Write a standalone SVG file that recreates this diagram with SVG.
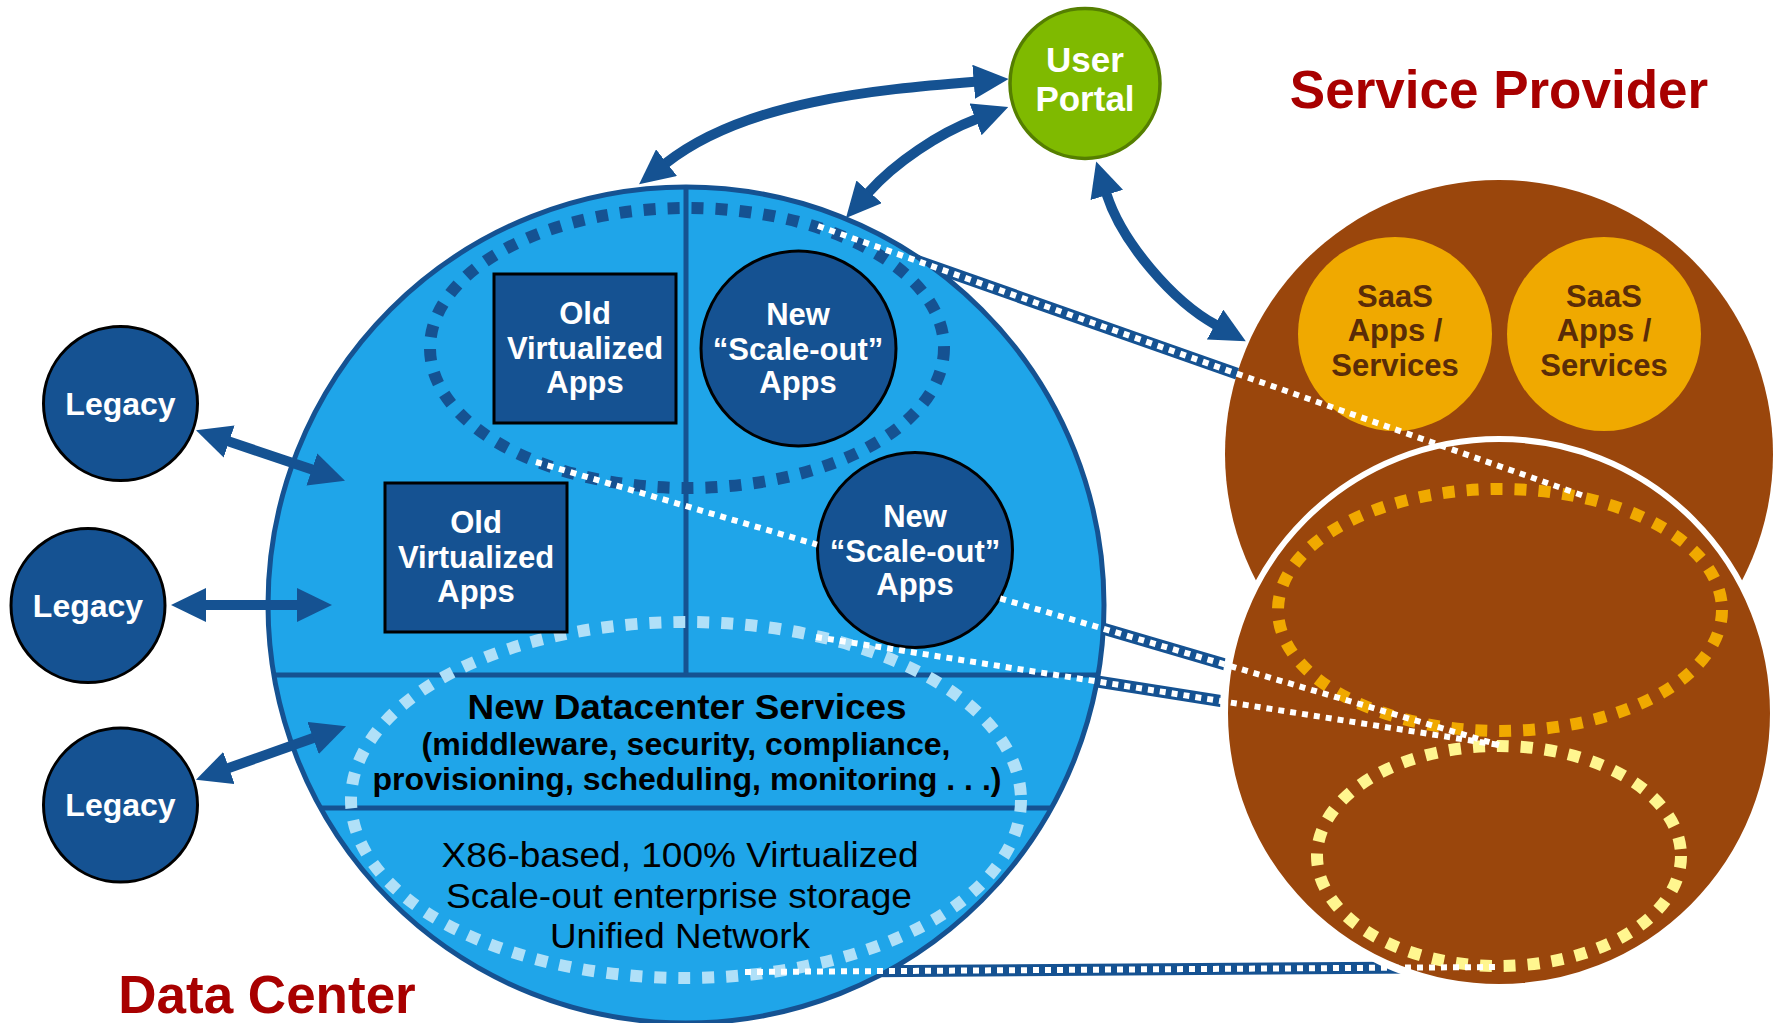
<svg xmlns="http://www.w3.org/2000/svg" width="1776" height="1023" viewBox="0 0 1776 1023">
<style>
.wb{font-family:"Liberation Sans",Arial,sans-serif;font-weight:bold;fill:#ffffff;text-anchor:middle}
.kb{font-family:"Liberation Sans",Arial,sans-serif;font-weight:bold;fill:#000000;text-anchor:middle}
.kr{font-family:"Liberation Sans",Arial,sans-serif;fill:#000000;text-anchor:middle;font-size:35px}
.red{font-family:"Liberation Sans",Arial,sans-serif;font-weight:bold;fill:#a80000;text-anchor:middle;font-size:53px}
.saas{font-family:"Liberation Sans",Arial,sans-serif;font-weight:bold;fill:#5a2c08;text-anchor:middle;font-size:31px}
.node{fill:#155292;stroke:#000000;stroke-width:3}
.dot{fill:none;stroke-width:12;stroke-dasharray:12 12}
.base{fill:none;stroke:#155292;stroke-width:12}
.wdash{fill:none;stroke:#ffffff;stroke-width:6;stroke-dasharray:6 6}
.arrow{fill:none;stroke:#155292;stroke-width:10;marker-start:url(#ah);marker-end:url(#ah)}
</style>
<defs>
<marker id="ah" viewBox="0 0 35 34" markerWidth="35" markerHeight="34" refX="1" refY="17" orient="auto-start-reverse" markerUnits="userSpaceOnUse">
<path d="M0,0 L35,17 L0,34 z" fill="#155292"/>
</marker>
<mask id="outside" maskUnits="userSpaceOnUse" x="0" y="0" width="1776" height="1023">
<rect x="0" y="0" width="1776" height="1023" fill="#ffffff"/>
<circle cx="686" cy="605" r="418" fill="#000000"/>
<circle cx="1499" cy="454" r="274" fill="#000000"/>
<circle cx="1499" cy="713" r="279" fill="#000000"/>
</mask>
</defs>

<g id="data-center">
<circle cx="686" cy="605" r="418" fill="#1fa5e9" stroke="#155292" stroke-width="5"/>
<line x1="274" y1="675" x2="1098" y2="675" stroke="#155292" stroke-width="5"/>
<line x1="321" y1="808" x2="1051" y2="808" stroke="#155292" stroke-width="5"/>
<line x1="686" y1="187" x2="686" y2="675" stroke="#155292" stroke-width="5"/>
</g>

<g id="service-provider">
<circle cx="1499" cy="454" r="274" fill="#9a460c"/>
<circle cx="1499" cy="713" r="274" fill="#9a460c" stroke="#ffffff" stroke-width="6"/>
</g>

<g id="saas-1">
<circle cx="1395" cy="334" r="97" fill="#f0a900"/>
<text class="saas" x="1395" y="307">SaaS</text>
<text class="saas" x="1395" y="341">Apps /</text>
<text class="saas" x="1395" y="376">Services</text>
</g>
<g id="saas-2">
<circle cx="1604" cy="334" r="97" fill="#f0a900"/>
<text class="saas" x="1604" y="307">SaaS</text>
<text class="saas" x="1604" y="341">Apps /</text>
<text class="saas" x="1604" y="376">Services</text>
</g>

<g id="group-apps">
<ellipse class="dot" cx="687" cy="348" rx="257" ry="140" stroke="#155292"/>
</g>
<g id="group-services">
<ellipse class="dot" cx="686" cy="800" rx="335" ry="178" stroke="#b0e0f8" stroke-width="11"/>
</g>
<g id="group-sp-upper">
<ellipse class="dot" cx="1500" cy="610" rx="222" ry="121" stroke="#f0a900" stroke-width="11"/>
</g>
<g id="group-sp-lower">
<ellipse class="dot" cx="1499" cy="856" rx="182" ry="110" stroke="#fff68f" stroke-width="10"/>
</g>

<g id="datacenter-services">
<text class="kb" x="687" y="719" font-size="35" textLength="439" lengthAdjust="spacingAndGlyphs">New Datacenter Services</text>
<text class="kb" x="686" y="755" font-size="32" textLength="529" lengthAdjust="spacingAndGlyphs">(middleware, security, compliance,</text>
<text class="kb" x="687" y="790" font-size="32" textLength="629" lengthAdjust="spacingAndGlyphs">provisioning, scheduling, monitoring . . .)</text>
</g>
<g id="infrastructure">
<text class="kr" x="680" y="867" textLength="477" lengthAdjust="spacingAndGlyphs">X86-based, 100% Virtualized</text>
<text class="kr" x="679" y="908" textLength="466" lengthAdjust="spacingAndGlyphs">Scale-out enterprise storage</text>
<text class="kr" x="680" y="948" textLength="260" lengthAdjust="spacingAndGlyphs">Unified Network</text>
</g>

<g id="old-apps-1">
<rect class="node" x="494" y="274" width="182" height="149"/>
<text class="wb" font-size="31" x="585" y="324">Old</text>
<text class="wb" font-size="31" x="585" y="359">Virtualized</text>
<text class="wb" font-size="31" x="585" y="393">Apps</text>
</g>
<g id="old-apps-2">
<rect class="node" x="385" y="483" width="182" height="149"/>
<text class="wb" font-size="31" x="476" y="533">Old</text>
<text class="wb" font-size="31" x="476" y="568">Virtualized</text>
<text class="wb" font-size="31" x="476" y="602">Apps</text>
</g>
<g id="new-apps-1">
<circle class="node" cx="798.5" cy="348.5" r="97.5"/>
<text class="wb" font-size="31" x="798" y="325">New</text>
<text class="wb" font-size="31" x="798" y="360">“Scale-out”</text>
<text class="wb" font-size="31" x="798" y="393">Apps</text>
</g>
<g id="new-apps-2">
<circle class="node" cx="915" cy="550" r="97.5"/>
<text class="wb" font-size="31" x="915" y="527">New</text>
<text class="wb" font-size="31" x="915" y="562">“Scale-out”</text>
<text class="wb" font-size="31" x="915" y="595">Apps</text>
</g>

<g id="legacy-1">
<circle class="node" cx="120.5" cy="403.5" r="77" stroke-width="2.5"/>
<text class="wb" font-size="32" x="120.5" y="414.5">Legacy</text>
</g>
<g id="legacy-2">
<circle class="node" cx="88" cy="605.5" r="77" stroke-width="2.5"/>
<text class="wb" font-size="32" x="88" y="616.5">Legacy</text>
</g>
<g id="legacy-3">
<circle class="node" cx="120.5" cy="805" r="77" stroke-width="2.5"/>
<text class="wb" font-size="32" x="120.5" y="816">Legacy</text>
</g>

<g id="user-portal">
<circle cx="1085" cy="83.5" r="75" fill="#7fba00" stroke="#557f00" stroke-width="3.5"/>
<text class="wb" font-size="35" x="1085" y="72">User</text>
<text class="wb" font-size="35" x="1085" y="111">Portal</text>
</g>

<g id="titles">
<text class="red" x="1499" y="108">Service Provider</text>
<text class="red" x="267" y="1013">Data Center</text>
</g>

<g id="connectors">
<g mask="url(#outside)">
<line class="base" x1="818" y1="226" x2="1587" y2="497"/>
<line class="base" x1="536" y1="462" x2="1499" y2="745"/>
<line class="base" x1="816" y1="637" x2="1499" y2="745"/>
<line class="base" x1="745" y1="972" x2="1499" y2="967"/>
</g>
<line class="wdash" x1="818" y1="226" x2="1587" y2="497"/>
<path class="wdash" d="M536 462 L817 544.6 M1000.2 598.4 L1499 745"/>
<line class="wdash" x1="816" y1="637" x2="1499" y2="745"/>
<line class="wdash" x1="745" y1="972" x2="1499" y2="967"/>

<path class="arrow" d="M665.8 163.3 C744.3 101.4 875 89.7 974.7 81.7"/>
<path class="arrow" d="M868.5 192.5 C895 162.5 939.1 133.2 976.5 119"/>
<path class="arrow" d="M1106.5 194 C1121.7 241.7 1172.2 301 1216 325"/>
<path class="arrow" d="M228.2 441.2 L312.8 469.8"/>
<path class="arrow" d="M205 605 L298 605"/>
<path class="arrow" d="M228 768.3 L314 737.7"/>
</g>
</svg>
